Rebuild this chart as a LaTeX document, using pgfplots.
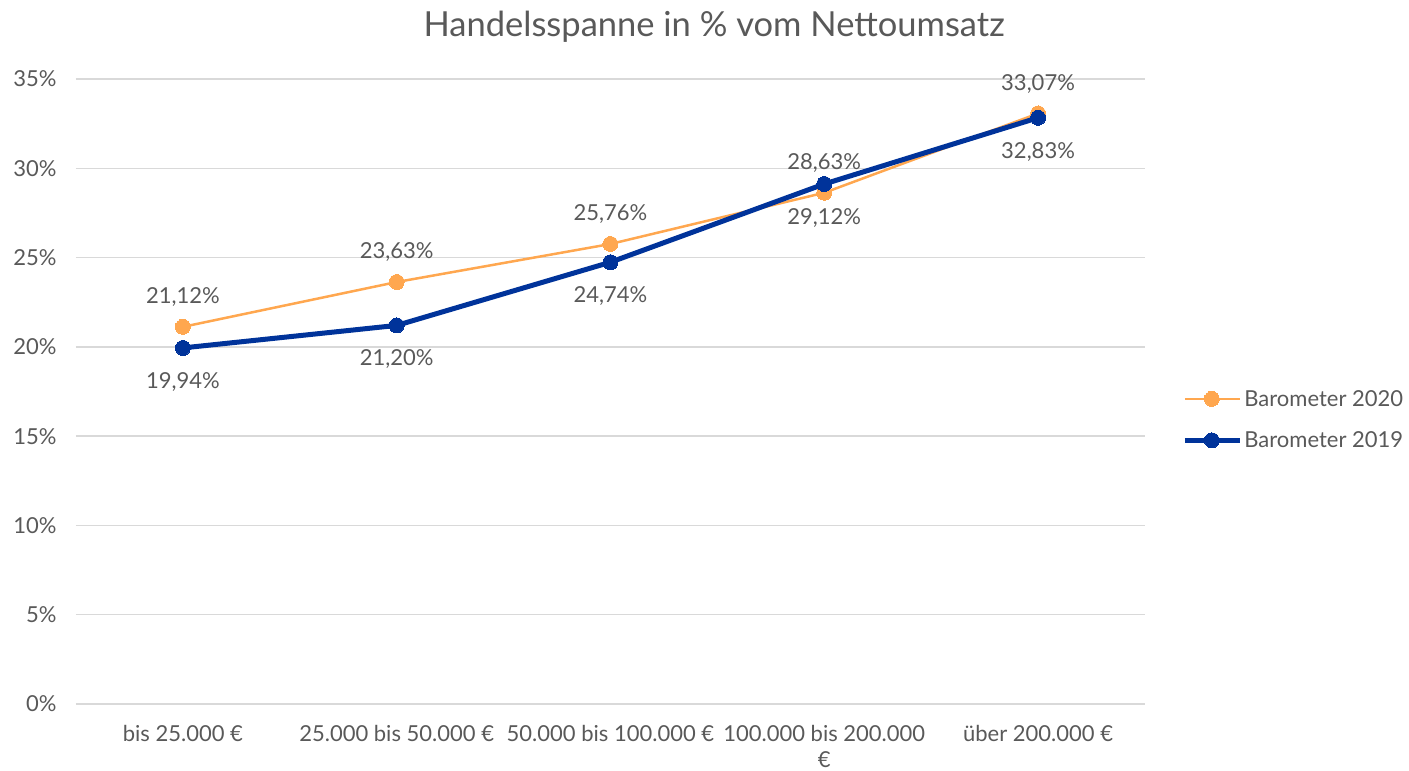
\documentclass[border=0pt]{standalone}
\usepackage{pgfplots}
\pgfplotsset{compat=1.18}
\usepackage{fontspec}
\setmainfont{Lato}
\definecolor{orangeS}{HTML}{FFA74F}
\definecolor{blueS}{HTML}{00339A}
\definecolor{txt}{HTML}{595959}
\definecolor{gridc}{HTML}{D9D9D9}
\begin{document}
\begin{tikzpicture}[x=1pt,y=1pt]
\path[use as bounding box] (0,0) rectangle (1409,771);
\begin{axis}[
  at={(76pt,67pt)}, anchor=south west,
  scale only axis, width=1069pt, height=625pt,
  xmin=-0.5, xmax=4.5, ymin=0, ymax=35,
  xtick={0,1,2,3,4},
  xticklabels={bis 25.000 €, 25.000 bis 50.000 €, 50.000 bis 100.000 €, {100.000 bis 200.000\\€}, über 200.000 €},
  ytick={0,5,10,15,20,25,30,35},
  yticklabel={\pgfmathprintnumber{\tick}\%},
  /pgf/number format/assume math mode=true,
  font=\fontsize{22}{26}\selectfont,
  tick label style={text=txt, font=\fontsize{22}{26}\selectfont},
  x tick label style={align=center, yshift=-18pt},
  y tick label style={xshift=-16pt},
  ymajorgrids, grid style={gridc, line width=1.5pt},
  axis line style={draw=none},
  axis x line*=bottom, axis y line*=left,
  major tick length=0pt,
  clip=false,
  title={Handelsspanne in \% vom Nettoumsatz},
  title style={at={(axis description cs:0.597,1)}, anchor=center, yshift=46pt, text=txt, font=\fontsize{34.5}{40}\selectfont},
  legend style={at={(axis description cs:1.032,0.455)}, anchor=west, draw=none, fill=none, text=txt, font=\fontsize{22}{26}\selectfont, row sep=20pt, /tikz/every even column/.append style={column sep=0pt}, nodes={inner xsep=2pt}},
  legend cell align=left,
  legend image code/.code={\draw[mark repeat=2,mark phase=2,#1] plot coordinates {(0pt,0pt) (27pt,0pt) (55pt,0pt)};},
  nodes near coords={\pgfmathprintnumber[fixed,fixed zerofill,precision=2,use comma,assume math mode=true]{\pgfplotspointmeta}\%},
  every node near coord/.append style={text=txt, font=\fontsize{22}{26}\selectfont},
]
\addplot[color=orangeS, line width=2.5pt, mark=*, mark size=7.5pt, mark options={fill=orangeS, draw=orangeS, line width=0pt},
  every node near coord/.append style={anchor=south, yshift=17pt}]
  coordinates {(0,21.12) (1,23.63) (2,25.76) (3,28.63) (4,33.07)};
\addlegendentry{Barometer 2020}
\addplot[color=blueS, line width=5pt, mark=*, mark size=7.5pt, mark options={fill=blueS, draw=blueS, line width=0pt},
  every node near coord/.append style={anchor=north, yshift=-21pt}]
  coordinates {(0,19.94) (1,21.20) (2,24.74) (3,29.12) (4,32.83)};
\addlegendentry{Barometer 2019}
\end{axis}
\end{tikzpicture}
\end{document}
